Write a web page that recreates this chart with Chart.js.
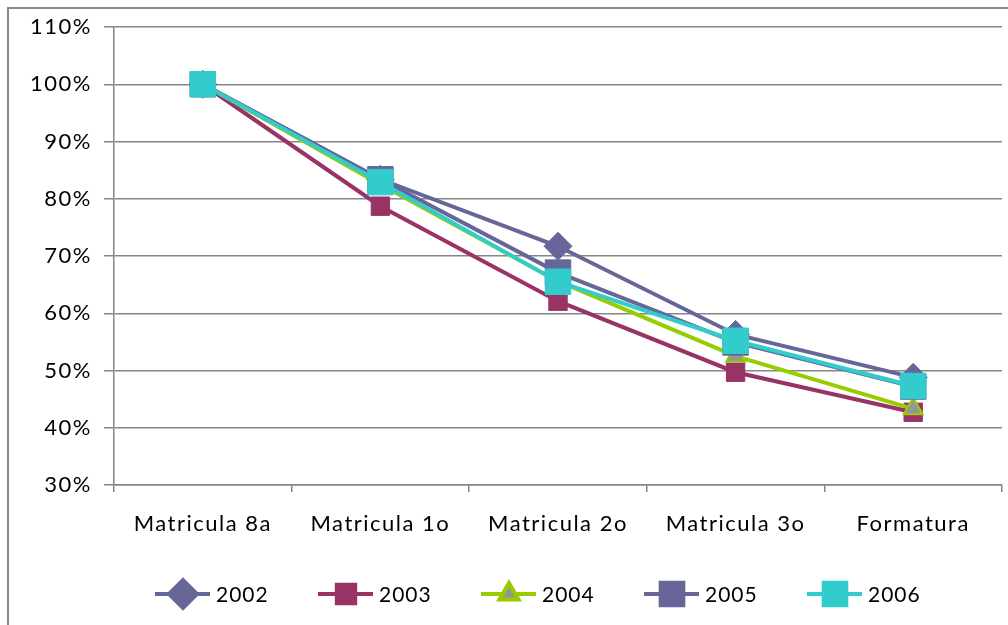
<!DOCTYPE html>
<html lang="pt">
<head>
    <meta charset="UTF-8">
    <title>Matriculas</title>
    <script src="https://cdn.jsdelivr.net/npm/chart.js"></script>
    <style>
        body { margin: 0; background: #fff; }
        #wrap { position: relative; width: 1008px; height: 625px; overflow: hidden; }
        #frame { position: absolute; left: 7px; top: 7px; width: 1100px; height: 700px;
                 border-left: 2px solid #8a8a8a; border-top: 2px solid #8a8a8a; }
        #chart { position: absolute; left: 0; top: 0; }
    </style>
</head>
<body>
<div id="wrap">
    <div id="frame"></div>
    <canvas id="chart" width="1008" height="625"></canvas>
</div>
<script>
    var categories = ['Matricula 8a', 'Matricula 1o', 'Matricula 2o', 'Matricula 3o', 'Formatura'];
    var seriesNames = ['2002', '2003', '2004', '2005', '2006'];
    var v2002 = [1.00, 0.834, 0.717, 0.563, 0.488];
    var v2003 = [1.00, 0.787, 0.621, 0.497, 0.427];
    var v2004 = [1.00, 0.825, 0.656, 0.525, 0.433];
    var v2005 = [1.00, 0.834, 0.671, 0.549, 0.472];
    var v2006 = [1.00, 0.829, 0.655, 0.552, 0.473];
    var yTicks = [0.3, 0.4, 0.5, 0.6, 0.7, 0.8, 0.9, 1.0, 1.1];

    var FONT = 'Lato, "Open Sans", sans-serif';
    var grey = '#868686';

    function ds(label, data, color, style, radius, fill, border, order) {
        return {
            label: label, data: data, order: order,
            borderColor: color, borderWidth: 4,
            pointStyle: style, pointRadius: radius, pointHoverRadius: radius,
            pointBackgroundColor: fill, pointBorderColor: border || fill, pointBorderWidth: 1,
            tension: 0
        };
    }

    // later years are painted on top, as in the original
    var datasets = [
        ds(seriesNames[0], v2002, '#666699', 'rectRot', 14, '#666699', null, 4),
        ds(seriesNames[1], v2003, '#993366', 'rect', 13, '#993366', null, 3),
        ds(seriesNames[2], v2004, '#99cc00', 'triangle', 11, '#969696', '#99cc00', 2),
        ds(seriesNames[3], v2005, '#666699', 'rect', 18, '#666699', null, 1),
        ds(seriesNames[4], v2006, '#33cccc', 'rect', 18, '#33cccc', null, 0)
    ];
    datasets[2].pointBorderWidth = 2;

    var spacing = {
        id: 'spacing',
        beforeLayout: function(chart) { chart.ctx.letterSpacing = '1.5px'; },
        beforeDraw: function(chart) { chart.ctx.letterSpacing = '1.5px'; }
    };

    // legend with line + marker, like the spreadsheet one
    var lineLegend = {
        id: 'lineLegend',
        afterDraw: function(chart) {
            var ctx = chart.ctx;
            var startX = 155, step = 163, y = 594;
            ctx.save();
            ctx.font = '21px ' + FONT;
            ctx.letterSpacing = '1px';
            ctx.textBaseline = 'middle';
            ctx.textAlign = 'left';
            chart.data.datasets.forEach(function(d, i) {
                var x = startX + i * step;
                ctx.strokeStyle = d.borderColor;
                ctx.lineWidth = 4;
                ctx.beginPath();
                ctx.moveTo(x, y);
                ctx.lineTo(x + 55, y);
                ctx.stroke();
                ctx.fillStyle = d.pointBackgroundColor;
                ctx.strokeStyle = d.pointBorderColor;
                Chart.helpers.drawPoint(ctx, {
                    pointStyle: d.pointStyle,
                    radius: Math.min(d.pointRadius, 16),
                    rotation: 0,
                    borderWidth: d.pointBorderWidth
                }, x + 28, y);
                ctx.fillStyle = '#000';
                ctx.fillText(d.label, x + 61, y + 1);
            });
            ctx.restore();
        }
    };

    new Chart(document.getElementById('chart'), {
        type: 'line',
        data: { labels: categories, datasets: datasets },
        options: {
            responsive: false,
            animation: false,
            layout: { autoPadding: false, padding: { left: 0, right: 6, top: 27, bottom: 0 } },
            plugins: { legend: { display: false }, tooltip: { enabled: false } },
            scales: {
                x: {
                    offset: true,
                    grid: { display: true, drawOnChartArea: false, offset: true, tickLength: 7, color: grey, lineWidth: 1.5 },
                    border: { color: grey, width: 1.5 },
                    ticks: { color: '#000', padding: 19, font: { family: FONT, size: 22 } },
                    afterFit: function(s) { s.height = 140; s.paddingLeft = 0; s.paddingRight = 0; }
                },
                y: {
                    min: 0.3, max: 1.1,
                    afterBuildTicks: function(s) { s.ticks = yTicks.map(function(v) { return { value: v }; }); },
                    grid: { color: grey, lineWidth: 1.5, tickLength: 10 },
                    border: { color: grey, width: 1.5 },
                    ticks: {
                        color: '#000', padding: 12, font: { family: FONT, size: 22 },
                        callback: function(v) { return Math.round(v * 100) + '%'; }
                    },
                    afterFit: function(s) { s.width = 114; }
                }
            }
        },
        plugins: [spacing, lineLegend]
    });
</script>
</body>
</html>
